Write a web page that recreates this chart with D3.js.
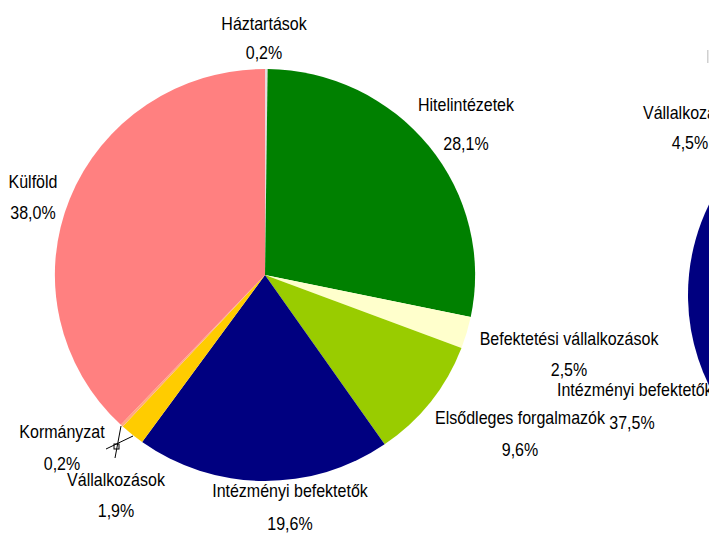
<!DOCTYPE html>
<html><head><meta charset="utf-8">
<script src="https://cdn.jsdelivr.net/npm/d3@7"></script>
<style>
html,body{margin:0;padding:0;background:#fff;}
svg{display:block;}
text{font-family:"Liberation Sans",Arial,sans-serif;font-size:18px;fill:#000;}
</style></head>
<body>
<svg id="c" width="709" height="537"></svg>
<script>
// Left pie data (clockwise from 12 o'clock)
const categories = ["Háztartások","Hitelintézetek","Befektetési vállalkozások","Elsődleges forgalmazók","Intézményi befektetők","Vállalkozások","Kormányzat","Külföld"];
const values = [0.2, 28.1, 2.5, 9.6, 19.6, 1.9, 0.2, 38.0];
const valueLabels = ["0,2%","28,1%","2,5%","9,6%","19,6%","1,9%","0,2%","38,0%"];
const colors = ["#E4DCDC","#008000","#FFFFCC","#99CC00","#000080","#FFCC00","#FFA880","#FF8080"];

// Right pie (mostly outside the view)
const categories2 = ["Intézményi befektetők","Vállalkozások","Egyéb"];
const values2 = [37.5, 4.5, 58.0];
const valueLabels2 = ["37,5%","4,5%",""];
const colors2 = ["#000080","#FFCC00","#FFFFFF"];

// label anchor positions (center x, baseline y of name line, baseline y of value line)
const labelPos = {
  "Háztartások":[264,30,59],
  "Hitelintézetek":[466,111,150],
  "Befektetési vállalkozások":[569,345,376],
  "Elsődleges forgalmazók":[520,424,456],
  "Intézményi befektetők":[290,497,530],
  "Vállalkozások":[116,486,517],
  "Kormányzat":[62,438,470],
  "Külföld":[33,188,219]
};

const svg = d3.select("#c");
const SX = 0.89;
function addText(parent, x, y, str, anchor){
  return parent.append("text")
    .attr("transform",`translate(${x},${y}) scale(${SX},1)`)
    .attr("text-anchor", anchor || "middle")
    .text(str);
}

// ---- left pie
const cx = 265, cy = 275, R = 206;
const pie = d3.pie().sort(null).value(d => d.v);
const arc = d3.arc().innerRadius(0).outerRadius(R);
const data = categories.map((c,i)=>({c, v:values[i], col:colors[i], lab:valueLabels[i]}));
const g = svg.append("g").attr("transform",`translate(${cx},${cy}) scale(1.02,1)`);
g.selectAll("path").data(pie(data)).join("path")
  .attr("d", arc).attr("fill", d => d.data.col);

// ---- right pie
const cx2 = 893, cy2 = 295, R2 = 205;
const pie2 = d3.pie().sort(null).value(d=>d.v)
  .startAngle(167.5*Math.PI/180).endAngle((167.5+360)*Math.PI/180);
const arc2 = d3.arc().innerRadius(0).outerRadius(R2);
const data2 = categories2.map((c,i)=>({c, v:values2[i], col:colors2[i], lab:valueLabels2[i]}));
const g2 = svg.append("g").attr("transform",`translate(${cx2},${cy2})`);
g2.selectAll("path").data(pie2(data2)).join("path")
  .attr("d", arc2).attr("fill", d => d.data.col);

// ---- leader line for Kormányzat
const lg = svg.append("g").attr("stroke","#000").attr("stroke-width",1).attr("fill","none");
lg.append("line").attr("x1",121).attr("y1",426).attr("x2",115).attr("y2",458);
lg.append("line").attr("x1",133).attr("y1",436).attr("x2",106).attr("y2",449);
lg.append("rect").attr("x",114).attr("y",444).attr("width",5).attr("height",5);

// ---- labels left pie
const lab = svg.append("g");
data.forEach(d=>{
  const p = labelPos[d.c];
  addText(lab, p[0], p[1], d.c);
  addText(lab, p[0], p[2], d.lab);
});

// ---- labels right pie
addText(lab, 557, 396, categories2[0], "start");
addText(lab, 632, 429, valueLabels2[0]);
addText(lab, 643, 119, categories2[1], "start");
addText(lab, 690, 149, valueLabels2[1]);

// faint mark at top right
svg.append("rect").attr("x",707).attr("y",50).attr("width",1.5).attr("height",13).attr("fill","#d0d0d0");
</script>
</body></html>
